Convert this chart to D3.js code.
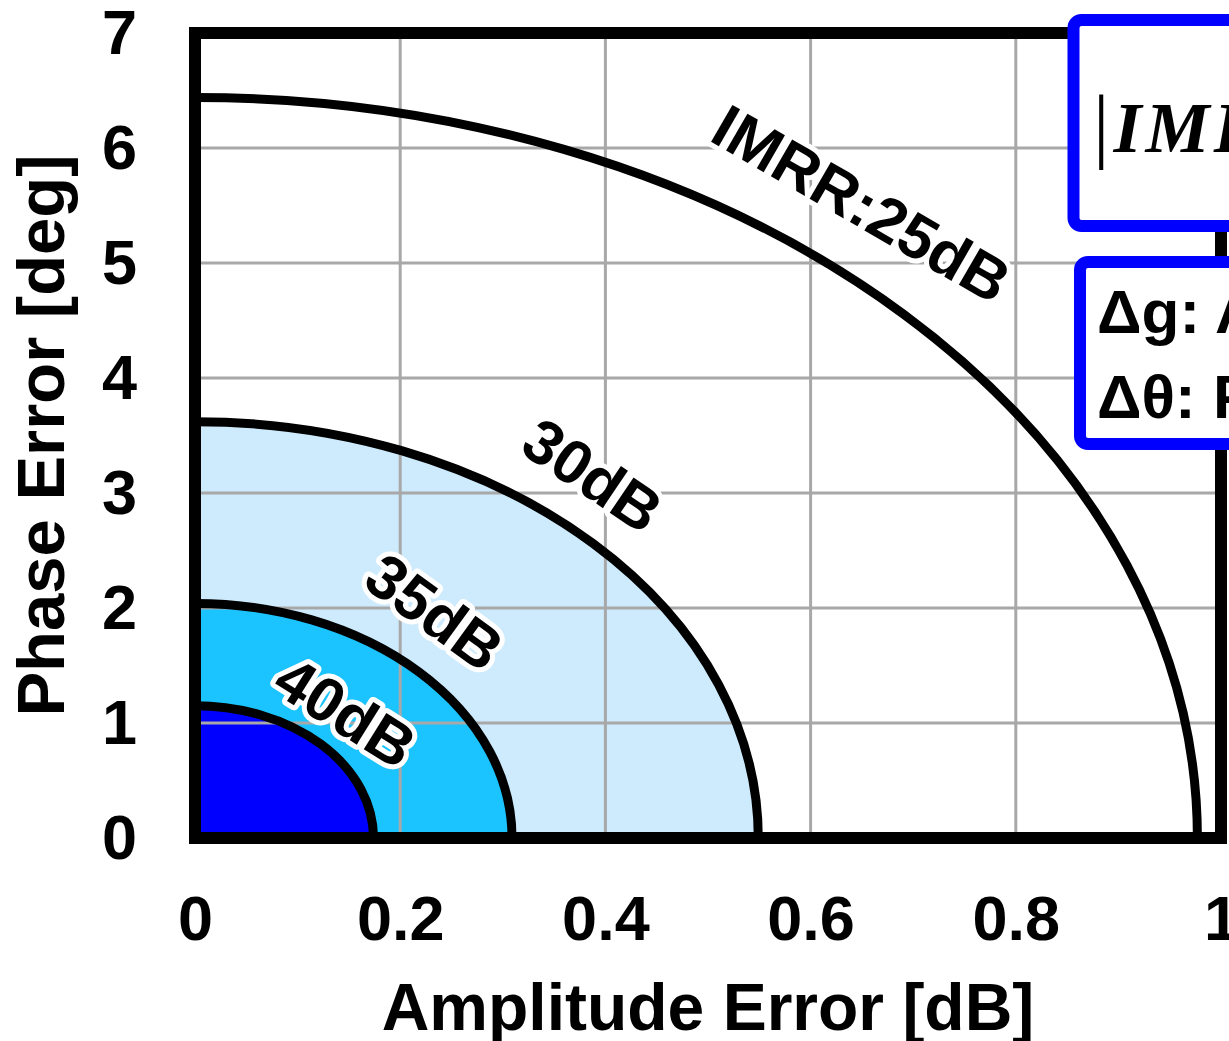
<!DOCTYPE html>
<html>
<head>
<meta charset="utf-8">
<script src="https://cdn.jsdelivr.net/npm/d3@7"></script>
<style>
  body { margin: 0; background: #fff; }
  svg { display: block; font-family: "Liberation Sans", Arial, sans-serif; font-weight: bold; }
</style>
</head>
<body>
<div id="chart"></div>
<script>
// axis ticks
const xTicks = [0, 0.2, 0.4, 0.6, 0.8, 1];
const yTicks = [0, 1, 2, 3, 4, 5, 6, 7];

// IMRR contours: amplitude-error and phase-error intercepts of each quarter ellipse
const levelNames = ["IMRR:25dB", "30dB", "35dB", "40dB"];
const ampIntercept = [0.977, 0.549, 0.309, 0.174];   // dB
const phaseIntercept = [6.44, 3.62, 2.04, 1.15];     // deg

// label anchors (data units) and rotation
const labelAmp = [0.650, 0.388, 0.234, 0.147];
const labelPhase = [5.52, 3.16, 1.97, 1.10];
const labelAngle = [30, 34, 36, 32];

const fillColors = ["none", "#cdebfd", "#1bc4ff", "#0000ff"];

const W = 1229, H = 1041;
const svg = d3.select("#chart").append("svg")
    .attr("width", W)
    .attr("height", H);

const x = d3.scaleLinear().domain([0, 1]).range([195, 1221]);
const y = d3.scaleLinear().domain([0, 7]).range([838, 33]);

// quarter ellipse from the phase intercept down to the amplitude intercept
function quarter(i) {
    const rx = x(ampIntercept[i]) - x(0);
    const ry = y(0) - y(phaseIntercept[i]);
    return `M${x(0)},${y(phaseIntercept[i])} A${rx},${ry} 0 0 1 ${x(ampIntercept[i])},${y(0)}`;
}

// filled regions (largest first)
levelNames.forEach((d, i) => {
    if (fillColors[i] === "none") return;
    svg.append("path")
        .attr("d", quarter(i) + ` L${x(0)},${y(0)} Z`)
        .attr("fill", fillColors[i]);
});

// grid
svg.append("g").selectAll("line")
    .data(xTicks.slice(1, -1))
    .enter().append("line")
    .attr("x1", d => x(d)).attr("x2", d => x(d))
    .attr("y1", y(7)).attr("y2", y(0))
    .attr("stroke", "#a8a8a8").attr("stroke-width", 3);
svg.append("g").selectAll("line")
    .data(yTicks.slice(1, -1))
    .enter().append("line")
    .attr("y1", d => y(d)).attr("y2", d => y(d))
    .attr("x1", x(0)).attr("x2", x(1))
    .attr("stroke", "#a8a8a8").attr("stroke-width", 3);

// contour lines
levelNames.forEach((d, i) => {
    svg.append("path")
        .attr("d", quarter(i))
        .attr("fill", "none")
        .attr("stroke", "#000")
        .attr("stroke-width", 9);
});

// contour labels
svg.append("g").selectAll("text")
    .data(levelNames)
    .enter().append("text")
    .attr("transform", (d, i) => `translate(${x(labelAmp[i])},${y(labelPhase[i])}) rotate(${labelAngle[i]})`)
    .attr("text-anchor", "middle")
    .attr("dy", "0.36em")
    .attr("font-size", 62)
    .attr("stroke", "#fff")
    .attr("stroke-width", 10)
    .attr("stroke-linejoin", "round")
    .attr("paint-order", "stroke")
    .attr("fill", "#000")
    .text(d => d);

// frame
svg.append("rect")
    .attr("x", x(0)).attr("y", y(7))
    .attr("width", x(1) - x(0)).attr("height", y(0) - y(7))
    .attr("fill", "none")
    .attr("stroke", "#000")
    .attr("stroke-width", 12);

// axes
const xAxis = svg.append("g")
    .attr("transform", `translate(0,${y(0)})`)
    .call(d3.axisBottom(x).tickValues(xTicks).tickSize(0).tickPadding(57).tickFormat(d => d));
const yAxis = svg.append("g")
    .attr("transform", `translate(${x(0)},0)`)
    .call(d3.axisLeft(y).tickValues(yTicks).tickSize(0).tickPadding(58).tickFormat(d => d));
[xAxis, yAxis].forEach(g => {
    g.select(".domain").remove();
    g.selectAll("text")
        .attr("font-family", "Liberation Sans, Arial, sans-serif")
        .attr("font-weight", "bold")
        .attr("font-size", 63)
        .attr("fill", "#000");
});

// axis titles
svg.append("text")
    .attr("x", (x(0) + x(1)) / 2)
    .attr("y", 1030)
    .attr("text-anchor", "middle")
    .attr("font-size", 66)
    .text("Amplitude Error [dB]");
svg.append("text")
    .attr("transform", `translate(64,${(y(0) + y(7)) / 2}) rotate(-90)`)
    .attr("text-anchor", "middle")
    .attr("font-size", 67)
    .text("Phase Error [deg]");

// formula / legend boxes (run off the right edge)
svg.append("rect")
    .attr("x", 1073.5).attr("y", 20)
    .attr("width", 400).attr("height", 206)
    .attr("rx", 8)
    .attr("fill", "#fff")
    .attr("stroke", "#0000ff")
    .attr("stroke-width", 12);
const formula = svg.append("text")
    .attr("x", 1093).attr("y", 152)
    .attr("font-family", "Liberation Serif, Times New Roman, serif");
formula.append("tspan")
    .attr("font-size", 82)
    .attr("font-weight", "normal")
    .text("|");
formula.append("tspan")
    .attr("dx", 4)
    .attr("font-size", 72)
    .attr("letter-spacing", 4)
    .attr("font-style", "italic")
    .attr("font-weight", "bold")
    .text("IMRR|");

svg.append("rect")
    .attr("x", 1080).attr("y", 262)
    .attr("width", 400).attr("height", 182)
    .attr("rx", 8)
    .attr("fill", "#fff")
    .attr("stroke", "#0000ff")
    .attr("stroke-width", 12);
svg.append("text")
    .attr("x", 1097).attr("y", 333)
    .attr("font-size", 62)
    .text("Δg: Amplitude Error");
svg.append("text")
    .attr("x", 1097).attr("y", 418)
    .attr("font-size", 62)
    .text("Δθ: Phase Error");
</script>
</body>
</html>
